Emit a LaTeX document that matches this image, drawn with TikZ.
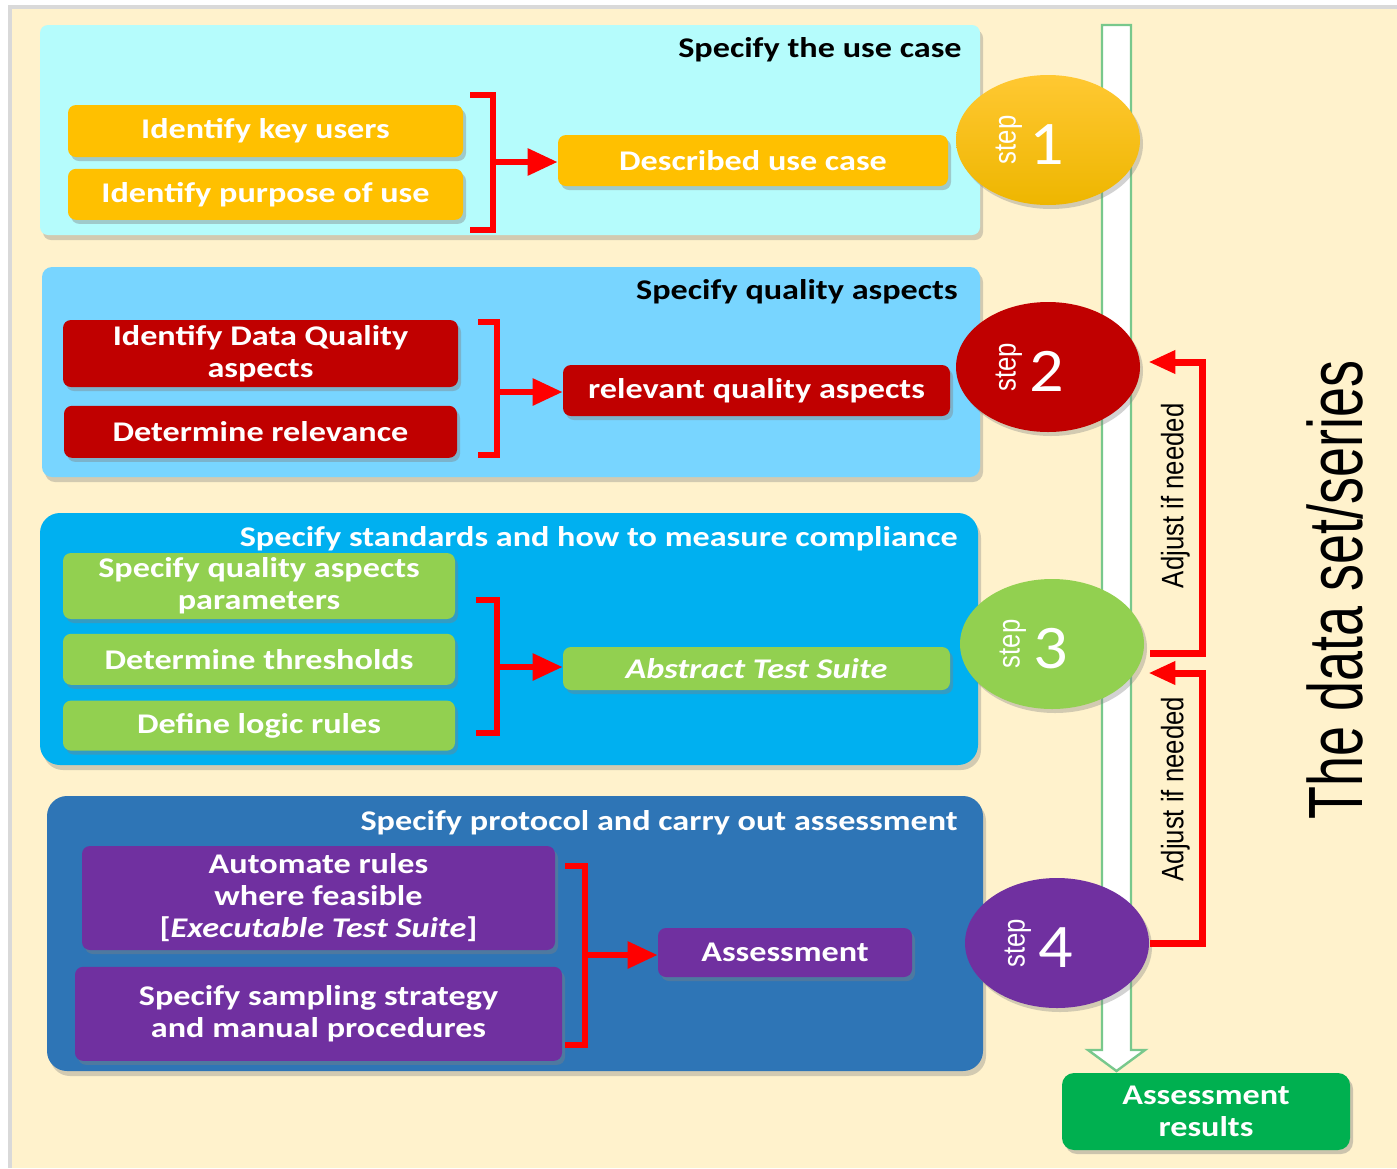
\documentclass[tikz,border=0pt]{standalone}
\usepackage{graphicx}
\usepackage{fontspec}
\setmainfont{Carlito}
\newfontfamily\boxfam{Carlito}[FakeStretch=1.2]
\newfontfamily\digfam{Carlito}[FakeStretch=1.1]
\newfontfamily\narrowfam{Liberation Sans}[FakeStretch=0.83]
\newfontfamily\datafam{Liberation Sans}[FakeStretch=0.7]
\usetikzlibrary{arrows.meta}
\usetikzlibrary{shapes.geometric}
\usetikzlibrary{shadows}
\usetikzlibrary{positioning}

\definecolor{cream}{RGB}{255,242,204}
\definecolor{pcyan}{RGB}{181,252,252}
\definecolor{plight}{RGB}{120,213,255}
\definecolor{pmid}{RGB}{0,176,240}
\definecolor{pdark}{RGB}{46,117,182}
\definecolor{cgold}{RGB}{255,192,0}
\definecolor{gtop}{RGB}{255,200,50}
\definecolor{gbot}{RGB}{238,182,0}
\definecolor{cred}{RGB}{192,0,0}
\definecolor{cgreen}{RGB}{146,208,80}
\definecolor{cpurple}{RGB}{112,48,160}
\definecolor{cres}{RGB}{0,176,80}
\definecolor{cline}{RGB}{120,200,140}

\newcommand{\boxfnt}{\boxfam\bfseries\fontsize{14.25}{16}\selectfont}
\newcommand{\stepnum}[1]{\rotatebox{90}{\narrowfam\fontsize{15.5}{15.5}\selectfont step}\hspace{4pt}{\digfam\fontsize{31}{31}\selectfont #1}\hspace*{18pt}}

\begin{document}
\begin{tikzpicture}[x=0.5pt, y=-0.5pt,
                    >={Triangle[length=15pt,width=13pt]},
                    box/.style={rectangle, rounded corners=4pt, text=white, align=center,
                                font=\boxfnt, inner sep=0pt,
                                drop shadow={shadow xshift=1.5pt, shadow yshift=-2pt, opacity=0.4}},
                    panel/.style={drop shadow={shadow xshift=1.5pt, shadow yshift=-2.5pt, opacity=0.35}},
                    ttl/.style={font=\boxfnt, anchor=east, inner sep=0pt},
                    stepel/.style={ellipse, minimum width=92pt, minimum height=65pt, inner sep=0pt, text=white,
                                   drop shadow={shadow xshift=1.5pt, shadow yshift=-2pt, opacity=0.35}},
                    brk/.style={red, line width=3pt},
                    fb/.style={red, line width=3.5pt, -{Triangle[length=13.5pt,width=11pt]}},
                    adj/.style={text=black, font=\narrowfam\fontsize{15.5}{15.5}\selectfont, inner sep=4.5pt}
                    ]
  \useasboundingbox (0,0) rectangle (1397,1168);
  \fill[white] (0,0) rectangle (1397,1168);
  \fill[black!15] (8,5) rectangle (1397,1168);
  \fill[cream] (12,9) rectangle (1397,1168);

  % the data set flows down
  \draw[cline, line width=1.2pt, fill=white] (1102,25) -- (1131,25) -- (1131,1050) -- (1145,1050)
        -- (1116.5,1071) -- (1088,1050) -- (1102,1050) -- cycle;

  \path[panel, fill=pcyan, rounded corners=4pt] (40,25) rectangle (980,235);
  \path[panel, fill=plight, rounded corners=5pt] (42,267) rectangle (980,477);
  \path[panel, fill=pmid, rounded corners=10pt] (40,513) rectangle (978,765);
  \path[panel, fill=pdark, rounded corners=10pt] (47,796) rectangle (983,1071);

  \node[ttl] (t1) at (962,50) {Specify the use case};
  \node[ttl] (t2) at (958,292) {Specify quality aspects};
  \node[ttl, text=white] (t3) at (958,539) {Specify standards and how to measure compliance};
  \node[ttl, text=white] (t4) at (958,823) {Specify protocol and carry out assessment};

  \node[box, fill=cgold, minimum width=197.5pt, minimum height=26pt] (k1) at (265.5,131) {Identify key users};
  \node[box, fill=cgold, minimum width=197.5pt, minimum height=25.5pt] (k2) [below=5.5pt of k1] {Identify purpose of use};
  \node[box, fill=cgold, minimum width=195pt, minimum height=25.5pt] (d1) at (753,160.5) {Described use case};

  \node[box, fill=cred, minimum width=197.5pt, minimum height=33.5pt] (q1) at (260.5,353.5) {Identify Data Quality\\aspects};
  \node[box, fill=cred, minimum width=196.5pt, minimum height=26pt] (q2) [below=9pt of q1] {Determine relevance};
  \node[box, fill=cred, minimum width=193.5pt, minimum height=25.5pt] (r1) at (756.5,390.5) {relevant quality aspects};

  \node[box, fill=cgreen, minimum width=196pt, minimum height=33pt] (s1) at (259,586) {Specify quality aspects\\parameters};
  \node[box, fill=cgreen, minimum width=196pt, minimum height=25.5pt] (s2) [below=7pt of s1] {Determine thresholds};
  \node[box, fill=cgreen, minimum width=196pt, minimum height=25pt] (s3) [below=7.5pt of s2] {Define logic rules};
  \node[box, fill=cgreen, minimum width=193.5pt, minimum height=21.5pt] (a1) at (756.5,668.5) {\itshape Abstract Test Suite};

  \node[box, fill=cpurple, minimum width=236.5pt, minimum height=52pt] (p1) at (318.5,898) {Automate rules\\where feasible\\{[}\textit{Executable Test Suite}{]}};
  \node[box, fill=cpurple, minimum width=243.5pt, minimum height=47pt] (p2) [below=8pt of p1] {Specify sampling strategy\\and manual procedures};
  \node[box, fill=cpurple, minimum width=127pt, minimum height=24.5pt] (as) at (785,952.5) {Assessment};

  \node[box, fill=cres, rounded corners=6pt, minimum width=144pt, minimum height=38.5pt] (res) at (1206,1111.5) {Assessment\\results};

  % brackets
  \draw[brk] (470,95) -- (493,95) -- (493,230) -- (470,230);
  \draw[brk] (478,322) -- (497,322) -- (497,455) -- (478,455);
  \draw[brk] (476,600) -- (497,600) -- (497,733) -- (476,733);
  \draw[brk] (565,866) -- (585,866) -- (585,1045) -- (565,1045);
  \coordinate (b1) at (493,162);
  \coordinate (b2) at (497,392);
  \coordinate (b3) at (497,667);
  \coordinate (b4) at (585,955);
  \draw[brk, ->] (b1) -- (b1 -| d1.west);
  \draw[brk, ->] (b2) -- (b2 -| r1.west);
  \draw[brk, ->] (b3) -- (b3 -| a1.west);
  \draw[brk, ->] (b4) -- (b4 -| as.west);

  \node[stepel, top color=gtop, bottom color=gbot] (st1) at (1048,140) {\stepnum{1}};
  \node[stepel, fill=cred] (st2) at (1048,367) {\stepnum{2}};
  \node[stepel, fill=cgreen] (st3) at (1052,644) {\stepnum{3}};
  \node[stepel, fill=cpurple] (st4) at (1057,943) {\stepnum{4}};

  \draw[fb] ([shift={(6,9)}]st3.east) -- ++(52,0) |- ([shift={(8,-5)}]st2.east)
        node[adj, pos=0.27, rotate=90, above] {Adjust if needed};
  \draw[fb] ([shift={(1,0)}]st4.east) -- ++(52,0) |- ([shift={(4,29)}]st3.east)
        node[adj, pos=0.285, rotate=90, above] {Adjust if needed};

  \node[rotate=90, font=\datafam\fontsize{38.5}{38.5}\selectfont] (ds) at (1335,590) {The data set/series};
\end{tikzpicture}
\end{document}
